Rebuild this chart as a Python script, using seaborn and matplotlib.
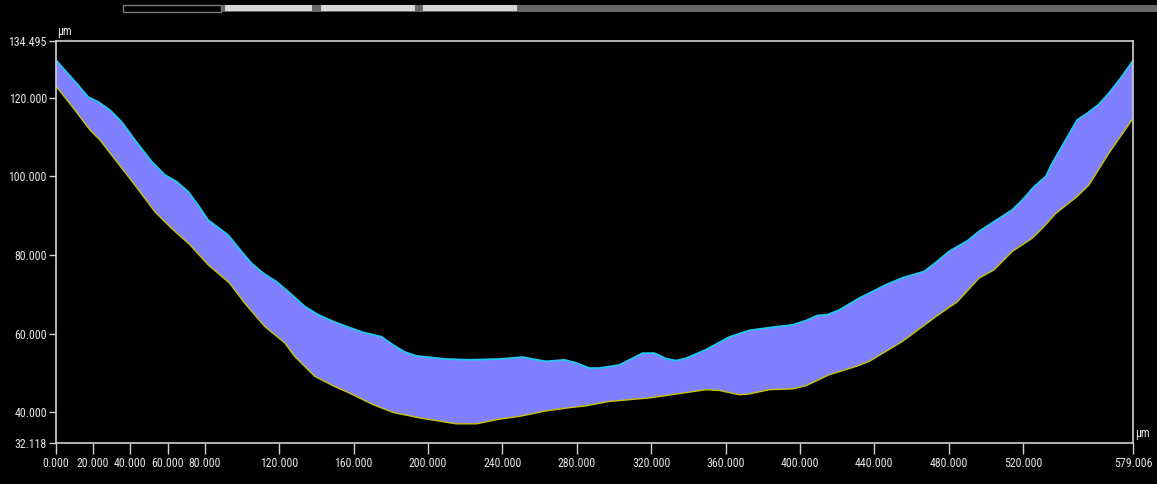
import matplotlib
matplotlib.use("Agg")
import matplotlib.pyplot as plt
from matplotlib.patches import Rectangle
from matplotlib import font_manager
import numpy as np
import pandas as pd
import seaborn as sns

# Upper surface profile (µm)
upper_x = [0, 11.1, 17.4, 22.7, 29, 35.3, 42.4, 51.4, 58.5, 64.8, 71.1, 76.4, 81.8,
           92.5, 99.7, 105.1, 111.3, 118.5, 124.8, 133.7, 140.9, 148.9, 156.1, 165,
           174.9, 181.2, 187.4, 193.7, 209.8, 222.3, 238.5, 251, 256.3, 263.5, 273.4,
           279.7, 286.8, 292.2, 302.9, 315.4, 321.7, 328, 333.4, 338.7, 349.5, 361.9,
           372.7, 385.2, 396, 403.2, 409.4, 414.8, 421.1, 431.8, 446.1, 455.1, 466.7,
           473, 480.1, 490, 496.2, 504.3, 514.1, 519.5, 525.8, 532.1, 535.6, 542.8,
           549, 554.4, 560.7, 566, 572.3, 579.006]
upper_y = [129.6, 123.7, 120.2, 119.0, 116.9, 113.9, 109.3, 103.8, 100.4, 98.7, 96.1,
           92.7, 88.9, 85.1, 80.9, 77.9, 75.4, 73.2, 70.7, 66.9, 64.8, 63.1, 61.8, 60.3,
           59.2, 57.1, 55.3, 54.3, 53.5, 53.3, 53.5, 54.0, 53.5, 52.9, 53.3, 52.5, 51.2,
           51.2, 52.0, 55.0, 55.0, 53.6, 53.1, 53.7, 55.9, 59.1, 60.8, 61.6, 62.2, 63.3,
           64.6, 64.8, 66.0, 69.0, 72.4, 74.2, 75.8, 78.1, 80.9, 83.6, 86.0, 88.5, 91.5,
           94.0, 97.4, 100.0, 103.4, 109.3, 114.4, 116.1, 118.4, 121.2, 125.0, 129.5]

# Lower surface profile (µm)
lower_x = [0, 10.2, 18.3, 23.6, 32.6, 42.4, 53.2, 62.1, 72, 81.8, 93.4, 101.5, 112.2,
           123, 128.4, 139.1, 149.8, 157.9, 170.4, 181.2, 195.5, 215.2, 225.9, 238.5,
           249.2, 263.5, 274.3, 285, 297.5, 304.7, 319, 335.1, 349.5, 356.7, 367.4,
           372.7, 383.5, 396, 403.2, 415.7, 430, 437.2, 455.1, 473, 484.6, 496.2, 504.3,
           514.1, 524.9, 530.3, 537.5, 549, 555.3, 566, 579.006]
lower_y = [123.0, 116.9, 111.8, 109.3, 103.8, 97.8, 91.0, 86.8, 82.6, 77.5, 72.8, 67.7,
           61.8, 57.6, 54.1, 49.1, 46.5, 44.8, 41.9, 39.9, 38.5, 37.0, 37.0, 38.2, 38.9,
           40.3, 41.0, 41.6, 42.7, 43.0, 43.6, 44.7, 45.7, 45.5, 44.4, 44.6, 45.7, 45.9,
           46.7, 49.5, 51.6, 52.9, 58.0, 64.3, 68.1, 74.1, 76.2, 80.9, 84.3, 86.8, 90.6,
           94.9, 97.8, 105.9, 114.8]

# Axis ticks
x_ticks = [0, 20, 40, 60, 80, 120, 160, 200, 240, 280, 320, 360, 400, 440, 480, 520, 579.006]
y_ticks = [32.118, 40, 60, 80, 100, 120, 134.495]
x_range = (0, 579.006)
y_range = (32.118, 134.495)
unit = "μm"

sns.set_theme(style="dark")
available = {f.name for f in font_manager.fontManager.ttflist}
narrow = [f for f in ["Roboto Condensed", "Open Sans Condensed", "Liberation Sans Narrow",
                      "Roboto"] if f in available]
family = narrow[:1] if narrow else ["DejaVu Sans"]
plt.rcParams["font.family"] = family + ["DejaVu Sans"]
label_size = 8.6

W, H = 1157, 484
fig = plt.figure(figsize=(W / 100, H / 100), dpi=100, facecolor="black")
ax = fig.add_axes([56 / W, 1 - 443 / H, (1133 - 56) / W, (443 - 41) / H])
ax.set_facecolor("black")

upper = pd.DataFrame({"x": upper_x, "y": upper_y})
lower = pd.DataFrame({"x": lower_x, "y": lower_y})

# Band between the two surfaces
poly_x = np.concatenate([upper["x"].to_numpy(), lower["x"].to_numpy()[::-1]])
poly_y = np.concatenate([upper["y"].to_numpy(), lower["y"].to_numpy()[::-1]])
ax.fill(poly_x, poly_y, color="#8080ff", lw=0, zorder=1)

sns.lineplot(data=upper, x="x", y="y", ax=ax, color="#20c8f0", lw=1.3,
             estimator=None, sort=False, zorder=2)
sns.lineplot(data=lower, x="x", y="y", ax=ax, color="#c8c400", lw=1.0,
             estimator=None, sort=False, zorder=2)

ax.set_xlim(*x_range)
ax.set_ylim(*y_range)
ax.set_xlabel("")
ax.set_ylabel("")
ax.grid(False)

ax.set_xticks(x_ticks)
ax.set_xticklabels([f"{v:.3f}" for v in x_ticks])
ax.set_yticks(y_ticks)
ax.set_yticklabels([f"{v:.3f}" for v in y_ticks])

axis_col = "#d0d0d0"
for s in ax.spines.values():
    s.set_visible(True)
    s.set_color(axis_col)
    s.set_linewidth(1.2)
ax.tick_params(axis="x", direction="out", length=8, width=1, color=axis_col,
               labelcolor="#e6e6e6", labelsize=label_size, pad=2, bottom=True)
ax.tick_params(axis="y", direction="out", length=5, width=1, color=axis_col,
               labelcolor="#e6e6e6", labelsize=label_size, pad=1.5, left=True)

# Unit labels
fig.text(57 / W, 1 - 31 / H, unit, color="#e6e6e6", fontsize=8.4, ha="left", va="center")
fig.text(1135 / W, 1 - 433 / H, unit, color="#e6e6e6", fontsize=8.4, ha="left", va="center")

# Tab strip across the top
def px_rect(x0, y0, x1, y1, **kw):
    fig.patches.append(Rectangle((x0 / W, 1 - y1 / H), (x1 - x0) / W, (y1 - y0) / H,
                                 transform=fig.transFigure, figure=fig, **kw))

px_rect(123, 5, W, 12, facecolor="#666666", edgecolor="none")
px_rect(123, 5, 221, 12, facecolor="black", edgecolor="#7a7a7a", lw=1)
for a, b in [(225, 312), (321, 415), (423, 517)]:
    px_rect(a, 5, b, 11, facecolor="#d6d6d6", edgecolor="none")

fig.savefig("out.png", dpi=100, facecolor="black")
